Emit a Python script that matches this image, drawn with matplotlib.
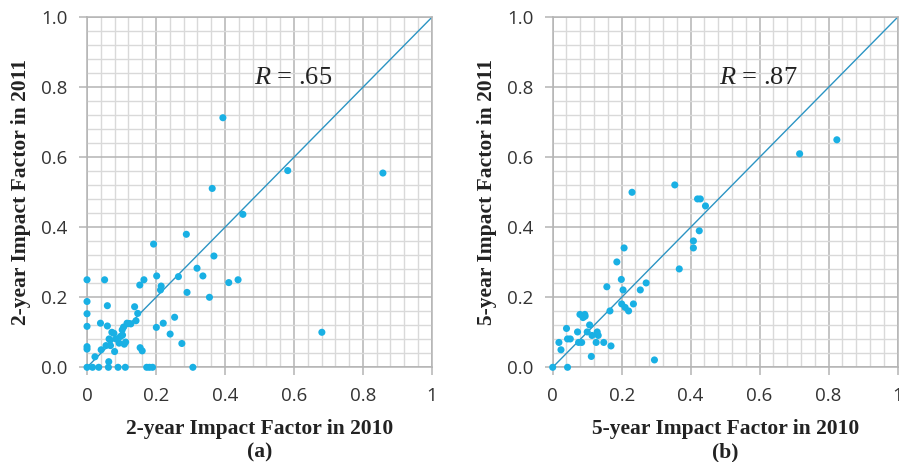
import numpy as np
import matplotlib
matplotlib.use("Agg")
import matplotlib.pyplot as plt
from matplotlib.ticker import MultipleLocator, FormatStrFormatter

# (a) 2-year impact factor, 2010 vs 2011
two_2010 = [0, 0, 0, 0, 0, 0, 0, 0.016, 0.034, 0.023, 0.039, 0.041, 0.051, 0.059,
            0.059, 0.055, 0.062, 0.063, 0.064, 0.068, 0.072, 0.080, 0.084, 0.090,
            0.093, 0.097, 0.102, 0.103, 0.108, 0.111, 0.116, 0.127, 0.138, 0.142,
            0.147, 0.153, 0.154, 0.160, 0.165, 0.173, 0.181, 0.190, 0.193, 0.201,
            0.202, 0.215, 0.213, 0.221, 0.241, 0.254, 0.265, 0.275, 0.288, 0.290,
            0.307, 0.319, 0.336, 0.355, 0.363, 0.368, 0.394, 0.411, 0.438, 0.452,
            0.582, 0.681, 0.858, 0.067, 0.078, 0.112, 0.106, 0.122]
two_2011 = [0.250, 0.188, 0.153, 0.117, 0.059, 0.052, 0, 0, 0, 0.030, 0.126, 0.050,
            0.250, 0.176, 0.118, 0.062, 0, 0.016, 0.081, 0.062, 0.100, 0.045, 0.081,
            0, 0.069, 0.088, 0.107, 0.092, 0.066, 0, 0.126, 0.124, 0.173, 0.133,
            0.154, 0.235, 0.056, 0.047, 0.250, 0, 0, 0, 0.352, 0.114, 0.261, 0.232,
            0.221, 0.126, 0.095, 0.143, 0.259, 0.068, 0.380, 0.214, 0, 0.283, 0.261,
            0.200, 0.511, 0.318, 0.713, 0.242, 0.250, 0.437, 0.562, 0.100, 0.555,
            0.078, 0.097, 0.072, 0.115, 0.125]

# (b) 5-year impact factor, 2010 vs 2011
five_2010 = [0, 0.018, 0.024, 0.040, 0.043, 0.043, 0.051, 0.072, 0.079, 0.075,
             0.084, 0.088, 0.093, 0.100, 0.107, 0.112, 0.114, 0.126, 0.129, 0.132,
             0.148, 0.157, 0.166, 0.169, 0.186, 0.199, 0.200, 0.204, 0.207, 0.210,
             0.220, 0.230, 0.234, 0.254, 0.271, 0.295, 0.354, 0.367, 0.408, 0.408,
             0.420, 0.428, 0.425, 0.443, 0.716, 0.824, 0.094]
five_2011 = [0, 0.071, 0.050, 0.111, 0, 0.081, 0.081, 0.101, 0.151, 0.071, 0.071,
             0.142, 0.151, 0.101, 0.121, 0.031, 0.091, 0.071, 0.101, 0.091, 0.071,
             0.230, 0.161, 0.061, 0.301, 0.251, 0.181, 0.221, 0.341, 0.171, 0.161,
             0.500, 0.181, 0.221, 0.241, 0.021, 0.521, 0.281, 0.361, 0.341, 0.481,
             0.481, 0.390, 0.461, 0.610, 0.650, 0.146]

panels = [
    ("2-year Impact Factor in 2010", "2-year Impact Factor in 2011", "(a)", ".65", two_2010, two_2011),
    ("5-year Impact Factor in 2010", "5-year Impact Factor in 2011", "(b)", ".87", five_2010, five_2011),
]

DOT = "#19b0e4"
LINE = "#2b94c3"
MAJOR = "#b4b4b4"
MINOR = "#d9d9d9"
TXT = "#333333"
SERIF = "Liberation Serif"

plt.rcParams["mathtext.fontset"] = "custom"
plt.rcParams["mathtext.it"] = "Liberation Serif:italic"
plt.rcParams["mathtext.rm"] = "Liberation Serif"

fig = plt.figure(figsize=(8.99, 4.62), dpi=100)
lefts = [0.0968, 0.6148]

for left, (xl, yl, tag, r, xs, ys) in zip(lefts, panels):
    ax = fig.add_axes([left, 0.205, 0.3836, 0.7576])
    ax.set_xlim(0, 1)
    ax.set_ylim(0, 1)
    ax.xaxis.set_major_locator(MultipleLocator(0.2))
    ax.yaxis.set_major_locator(MultipleLocator(0.2))
    ax.xaxis.set_minor_locator(MultipleLocator(0.04))
    ax.yaxis.set_minor_locator(MultipleLocator(0.04))
    ax.yaxis.set_major_formatter(FormatStrFormatter("%.1f"))
    ax.set_xticks([0, 0.2, 0.4, 0.6, 0.8, 1.0])
    ax.set_xticklabels(["0", "0.2", "0.4", "0.6", "0.8", "1"])
    ax.grid(which="minor", color=MINOR, linewidth=1.0)
    ax.grid(which="major", color=MAJOR, linewidth=1.1)
    ax.set_axisbelow(True)
    for s in ax.spines.values():
        s.set_color(MAJOR)
        s.set_linewidth(1.1)
    ax.tick_params(which="major", length=6, width=1.1, color=MAJOR,
                   labelsize=13.5, labelcolor=TXT, pad=8)
    ax.tick_params(which="minor", length=0)
    for lab in ax.get_xticklabels() + ax.get_yticklabels():
        lab.set_fontfamily("Open Sans")

    ax.plot([0, 1], [0, 1], color=LINE, linewidth=1.0, zorder=2)
    ax.scatter(xs, ys, s=26, color=DOT, edgecolors="none", zorder=3, clip_on=False)

    ax.text(0.483, 0.826, "$\\it{R}$ = " + r, fontsize=19, family=SERIF,
            va="center", ha="left", color="#222222")

    ax.set_xlabel(xl, fontsize=15.5, fontweight="bold", family=SERIF,
                  color="#222222", labelpad=10)
    ax.set_ylabel(yl, fontsize=15.5, fontweight="bold", family=SERIF,
                  color="#222222", labelpad=7)
    ax.text(0.5, -0.243, tag, transform=ax.transAxes, fontsize=15.5,
            fontweight="bold", family=SERIF, ha="center", va="center",
            color="#222222")

fig.savefig("out.png", dpi=100)
